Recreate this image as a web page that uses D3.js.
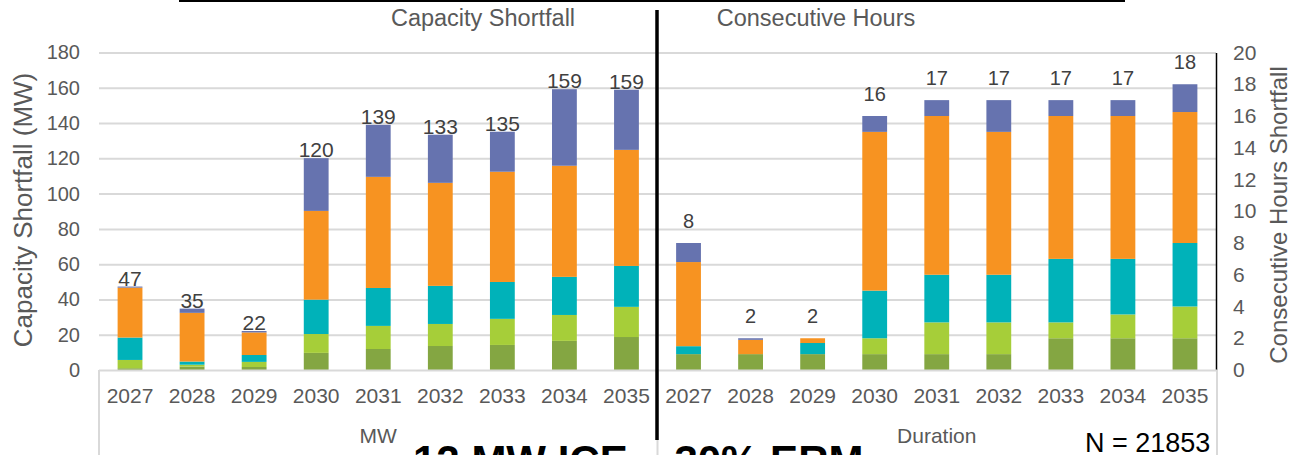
<!DOCTYPE html>
<html><head><meta charset="utf-8">
<script src="https://cdn.jsdelivr.net/npm/d3@7"></script>
<style>
body{margin:0;background:#fff;}
svg{display:block;font-family:"Liberation Sans",Arial,sans-serif;}
</style>
</head><body>
<svg id="c" width="1291" height="455"></svg>
<script>
// ---------------- data ----------------
const years = ["2027","2028","2029","2030","2031","2032","2033","2034","2035"];
const groups = ["MW","Duration"];
const seriesKeys = ["s1","s2","s3","s4","s5"];
const seriesColors = ["#84A642","#A6CE39","#00B2B9","#F79321","#6673AF"];

// Capacity shortfall (MW), stacked bottom -> top
const mwS1 = [1.0, 1.9, 1.7, 9.7, 11.9, 13.6, 14.2, 16.5, 18.7];
const mwS2 = [4.7, 1.1, 2.9, 10.7, 13.1, 12.5, 14.8, 14.7, 17.1];
const mwS3 = [12.7, 1.8, 3.9, 19.5, 21.5, 21.6, 20.9, 21.6, 23.2];
const mwS4 = [28.3, 27.6, 12.8, 50.3, 63.0, 58.4, 62.5, 63.0, 65.8];
const mwS5 = [0.6, 2.4, 0.8, 29.9, 29.5, 27.3, 22.7, 43.4, 34.1];
const mwLabels = [47, 35, 22, 120, 139, 133, 135, 159, 159];

// Consecutive hours shortfall (Duration), stacked bottom -> top
const durS1 = [1, 1, 1, 1, 1, 1, 2, 2, 2];
const durS2 = [0, 0, 0, 1, 2, 2, 1, 1.5, 2];
const durS3 = [0.5, 0, 0.7, 3, 3, 3, 4, 3.5, 4];
const durS4 = [5.3, 0.9, 0.3, 10, 10, 9, 9, 9, 8.25];
const durS5 = [1.2, 0.1, 0, 1, 1, 2, 1, 1, 1.75];
const durLabels = [8, 2, 2, 16, 17, 17, 17, 17, 18];

const leftTicks = [0,20,40,60,80,100,120,140,160,180];
const rightTicks = [0,2,4,6,8,10,12,14,16,18,20];

// ---------------- layout ----------------
const plotL = 99, plotR = 1216, yBase = 370, yTop = 52.5;
const svg = d3.select("#c");

const keys = [];
groups.forEach(g => years.forEach(y => keys.push(g + "|" + y)));

const x = d3.scaleBand().domain(keys).range([plotL, plotR]).paddingInner(0.6).paddingOuter(0.3);
const yL = d3.scaleLinear().domain([0,180]).range([yBase, yTop]);
const yR = d3.scaleLinear().domain([0,20]).range([yBase, yTop]);

// gridlines
const grid = svg.append("g").attr("transform", `translate(${plotL},0)`)
  .call(d3.axisLeft(yL).tickValues(leftTicks.filter(t => t > 0)).tickSize(-(plotR - plotL)).tickFormat(""));
grid.select(".domain").remove();
grid.selectAll("line").attr("stroke","#d9d9d9").attr("stroke-width",2);

// stacked data
const mwSeries = [mwS1, mwS2, mwS3, mwS4, mwS5];
const durSeries = [durS1, durS2, durS3, durS4, durS5];
const mwRows = years.map((y,i) => { const r = {key:"MW|"+y}; seriesKeys.forEach((k,j)=> r[k] = mwSeries[j][i]); return r; });
const durRows = years.map((y,i) => { const r = {key:"Duration|"+y}; seriesKeys.forEach((k,j)=> r[k] = durSeries[j][i]); return r; });
const stack = d3.stack().keys(seriesKeys);
const mwStack = stack(mwRows);
const durStack = stack(durRows);

function drawStack(layers, yScale) {
  svg.append("g").selectAll("g").data(layers).join("g")
    .attr("fill", (d,i) => seriesColors[i])
    .selectAll("rect").data(d => d).join("rect")
    .attr("x", d => x(d.data.key))
    .attr("width", x.bandwidth())
    .attr("y", d => yScale(d[1]))
    .attr("height", d => Math.max(0, yScale(d[0]) - yScale(d[1])));
}
drawStack(mwStack, yL);
drawStack(durStack, yR);

// data labels
const lastMw = mwStack[mwStack.length - 1];
const lastDur = durStack[durStack.length - 1];
svg.append("g").selectAll("text").data(lastMw).join("text")
  .attr("x", d => x(d.data.key) + x.bandwidth()/2)
  .attr("y", d => yL(d[1]) - 1)
  .attr("text-anchor","middle").attr("font-size",21).attr("fill","#404040")
  .text((d,i) => mwLabels[i]);
svg.append("g").selectAll("text").data(lastDur).join("text")
  .attr("x", d => x(d.data.key) + x.bandwidth()/2)
  .attr("y", d => yR(d[1]) - 15)
  .attr("text-anchor","middle").attr("font-size",20).attr("fill","#404040")
  .text((d,i) => durLabels[i]);

// left axis labels
const axL = svg.append("g").attr("transform", `translate(${plotL},0)`)
  .call(d3.axisLeft(yL).tickValues(leftTicks).tickSize(0).tickPadding(19));
axL.select(".domain").remove();
axL.selectAll("text").attr("font-size",20).attr("fill","#595959").attr("font-family",null);

// right axis
const axR = svg.append("g").attr("transform", `translate(${plotR},0)`)
  .call(d3.axisRight(yR).tickValues(rightTicks).tickSize(0).tickPadding(17));
axR.select(".domain").attr("stroke","#000").attr("stroke-width",1.5);
axR.selectAll("text").attr("font-size",21).attr("fill","#595959").attr("font-family",null);

// category axis
const axB = svg.append("g").attr("transform", `translate(0,${yBase})`)
  .call(d3.axisBottom(x).tickSize(0).tickFormat(d => d.split("|")[1]));
axB.select(".domain").remove();
axB.selectAll("text").attr("y",33).attr("dy",null).attr("font-size",21).attr("fill","#595959").attr("font-family",null);

svg.append("line").attr("x1",plotL).attr("x2",plotR+1).attr("y1",yBase+0.5).attr("y2",yBase+0.5)
  .attr("stroke","#d9d9d9").attr("stroke-width",2);
[plotL, (plotL+plotR)/2, plotR+1].forEach(xx => {
  svg.append("line").attr("x1",xx).attr("x2",xx).attr("y1",yBase).attr("y2",455)
    .attr("stroke","#d9d9d9").attr("stroke-width",2);
});

// group labels
groups.forEach((g,gi) => {
  const first = x(g+"|"+years[0]) - x.step()*0.3;
  const last = x(g+"|"+years[years.length-1]) + x.bandwidth() + x.step()*0.3;
  svg.append("text").attr("x",(first+last)/2).attr("y",443).attr("text-anchor","middle")
    .attr("font-size",21).attr("fill","#595959").text(g);
});

// axis titles
svg.append("text").attr("transform","translate(32,210) rotate(-90)").attr("text-anchor","middle")
  .attr("font-size",26).attr("fill","#595959").text("Capacity Shortfall (MW)");
svg.append("text").attr("transform","translate(1287,215) rotate(-90)").attr("text-anchor","middle")
  .attr("font-size",24).attr("fill","#595959").text("Consecutive Hours Shortfall");

// section titles
svg.append("text").attr("x",483).attr("y",26).attr("text-anchor","middle")
  .attr("font-size",23.5).attr("fill","#595959").text("Capacity Shortfall");
svg.append("text").attr("x",816).attr("y",26).attr("text-anchor","middle")
  .attr("font-size",23.5).attr("fill","#595959").text("Consecutive Hours");

// overlay lines
svg.append("line").attr("x1",179).attr("x2",1125).attr("y1",1).attr("y2",1).attr("stroke","#000").attr("stroke-width",2);
svg.append("line").attr("x1",657).attr("x2",657).attr("y1",10).attr("y2",440).attr("stroke","#000").attr("stroke-width",3.5);

// footer
svg.append("text").attr("x",1085).attr("y",452).attr("font-size",27).attr("fill","#000").text("N = 21853");
svg.append("text").attr("x",413).attr("y",475).attr("font-size",42).attr("font-weight","bold").attr("fill","#000")
  .text("12 MW ICE – 30% ERM");
</script>
</body></html>
